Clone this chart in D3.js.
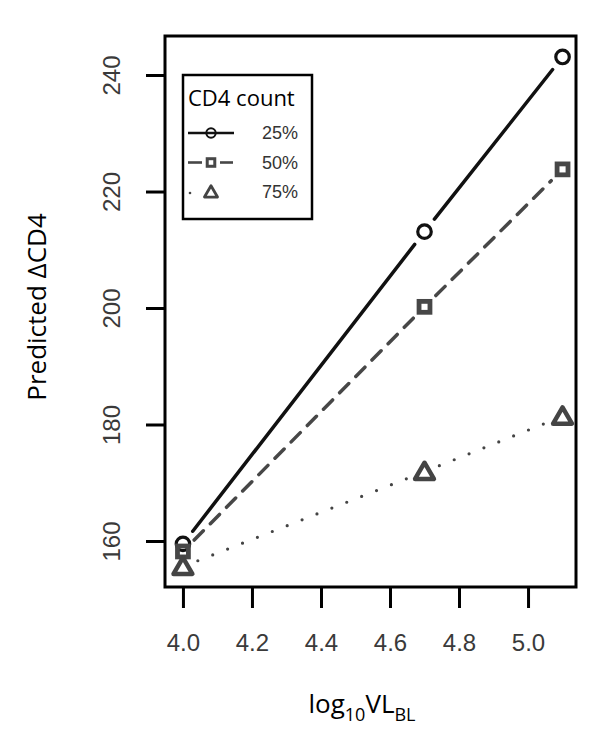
<!DOCTYPE html>
<html>
<head>
<meta charset="utf-8">
<script src="https://cdn.jsdelivr.net/npm/d3@7"></script>
<style>
  body { margin: 0; background: #fff; }
  svg { display: block; }
</style>
</head>
<body>
<div id="chart"></div>
<script>
// values
var vlLevels = [4.0, 4.7, 5.1];
var seriesNames = ["25%", "50%", "75%"];
var cd4q25 = [159.5, 213.1, 243.1];
var cd4q50 = [158.2, 200.2, 223.8];
var cd4q75 = [155.6, 171.9, 181.4];
var xTicks = [4.0, 4.2, 4.4, 4.6, 4.8, 5.0];
var yTicks = [160, 180, 200, 220, 240];

var series = [
  { name: seriesNames[0], values: cd4q25, shape: "circle", color: "#111", dash: null, lw: 3.5 },
  { name: seriesNames[1], values: cd4q50, shape: "square", color: "#474747", dash: "13,10", lw: 3.5 },
  { name: seriesNames[2], values: cd4q75, shape: "triangle", color: "#444", dash: "0,16", lw: 3.2 }
];

var width = 600, height = 738;
var box = { left: 165, right: 576, top: 36, bottom: 587 };

var svg = d3.select("#chart").append("svg")
    .attr("width", width)
    .attr("height", height);

var x = d3.scaleLinear()
  .domain([3.948, 5.139])
  .range([box.left, box.right]);

var y = d3.scaleLinear()
  .domain([152.1, 246.7])
  .range([box.bottom, box.top]);

// axes, R-style: long ticks, labels rotated on y
var xAxis = svg.append("g")
  .attr("transform", "translate(0," + box.bottom + ")")
  .call(d3.axisBottom(x).tickValues(xTicks).tickFormat(d3.format(".1f")).tickSize(21).tickPadding(26));
var yAxis = svg.append("g")
  .attr("transform", "translate(" + box.left + ",0)")
  .call(d3.axisLeft(y).tickValues(yTicks).tickSize(19));

[xAxis, yAxis].forEach(function(g) {
  g.select(".domain").remove();
  g.selectAll(".tick line").attr("stroke", "#000").attr("stroke-width", 3);
  g.selectAll(".tick text")
    .attr("fill", "#3a3a3a")
    .style("font-family", "Liberation Sans, Arial, sans-serif")
    .style("font-size", "24px");
});
xAxis.selectAll(".tick text").attr("dy", "0.71em").attr("y", 47);
yAxis.selectAll(".tick text")
  .attr("x", null).attr("dy", null)
  .attr("text-anchor", "middle")
  .attr("transform", "translate(-45,0) rotate(-90)")
  .attr("y", 0);

svg.append("rect")
  .attr("x", box.left)
  .attr("y", box.top)
  .attr("width", box.right - box.left)
  .attr("height", box.bottom - box.top)
  .attr("fill", "none")
  .attr("stroke", "#000")
  .attr("stroke-width", 3);

function drawMarker(g, shape, cx, cy, s, color, sw) {
  if (shape === "circle") {
    g.append("circle").attr("cx", cx).attr("cy", cy).attr("r", s * 0.52)
      .attr("fill", "none").attr("stroke", color).attr("stroke-width", sw);
  } else if (shape === "square") {
    g.append("rect").attr("x", cx - s * 0.42).attr("y", cy - s * 0.42)
      .attr("width", s * 0.84).attr("height", s * 0.84)
      .attr("fill", "none").attr("stroke", color).attr("stroke-width", sw * 1.5);
  } else {
    var h = s * 1.25;
    var pts = [[cx, cy - h * 0.55], [cx + h * 0.58, cy + h * 0.45], [cx - h * 0.58, cy + h * 0.45]];
    g.append("path").attr("d", "M" + pts.join("L") + "Z")
      .attr("fill", "none").attr("stroke", color).attr("stroke-width", sw * 1.4)
      .attr("stroke-linejoin", "round");
  }
}

// lines with gaps around the points (type = "b")
var gap = 16;
series.forEach(function(s) {
  var g = svg.append("g");
  for (var i = 0; i < vlLevels.length - 1; i++) {
    var x0 = x(vlLevels[i]), y0 = y(s.values[i]);
    var x1 = x(vlLevels[i + 1]), y1 = y(s.values[i + 1]);
    var len = Math.hypot(x1 - x0, y1 - y0);
    var ux = (x1 - x0) / len, uy = (y1 - y0) / len;
    g.append("line")
      .attr("x1", x0 + ux * gap).attr("y1", y0 + uy * gap)
      .attr("x2", x1 - ux * gap).attr("y2", y1 - uy * gap)
      .attr("stroke", s.color)
      .attr("stroke-width", s.lw)
      .attr("stroke-linecap", "round")
      .attr("stroke-dasharray", s.dash);
  }
  vlLevels.forEach(function(v, i) {
    drawMarker(g, s.shape, x(v), y(s.values[i]), 13, s.color, 3.2);
  });
});

// legend
var leg = svg.append("g");
leg.append("rect")
  .attr("x", 183).attr("y", 75).attr("width", 129).attr("height", 144)
  .attr("fill", "#fff").attr("stroke", "#000").attr("stroke-width", 2.5);
leg.append("text")
  .attr("x", 188).attr("y", 106)
  .style("font-family", "Open Sans, sans-serif")
  .style("font-size", "22px")
  .attr("fill", "#000")
  .text("CD4 count");

series.forEach(function(s, i) {
  var ly = 133 + i * 29.5;
  var row = leg.append("g");
  if (s.shape === "circle") {
    row.append("line").attr("x1", 188).attr("x2", 234).attr("y1", ly).attr("y2", ly)
      .attr("stroke", s.color).attr("stroke-width", 2.6);
  } else if (s.shape === "square") {
    row.append("line").attr("x1", 188).attr("x2", 202).attr("y1", ly).attr("y2", ly)
      .attr("stroke", s.color).attr("stroke-width", 2.6);
    row.append("line").attr("x1", 220).attr("x2", 233).attr("y1", ly).attr("y2", ly)
      .attr("stroke", s.color).attr("stroke-width", 2.6);
  } else {
    row.append("circle").attr("cx", 190).attr("cy", ly + 1).attr("r", 1.3).attr("fill", s.color);
  }
  drawMarker(row, s.shape, 211, ly, 9, s.color, 2);
  row.append("text")
    .attr("x", 298).attr("y", ly)
    .attr("dy", "0.36em")
    .attr("text-anchor", "end")
    .style("font-family", "Liberation Sans, Arial, sans-serif")
    .style("font-size", "18px")
    .attr("fill", "#333")
    .text(s.name);
});

// axis titles
var xt = svg.append("text")
  .attr("x", 362).attr("y", 713)
  .attr("text-anchor", "middle")
  .style("font-family", "Open Sans, sans-serif")
  .style("font-size", "26px")
  .attr("fill", "#000");
xt.append("tspan").text("log");
xt.append("tspan").attr("dy", 8).style("font-size", "18px").text("10");
xt.append("tspan").attr("dy", -8).text("VL");
xt.append("tspan").attr("dy", 8).style("font-size", "18px").text("BL");

svg.append("text")
  .attr("transform", "translate(46,307) rotate(-90)")
  .attr("text-anchor", "middle")
  .style("font-family", "Open Sans, sans-serif")
  .style("font-size", "26px")
  .attr("fill", "#000")
  .text("Predicted \u0394CD4");
</script>
</body>
</html>
